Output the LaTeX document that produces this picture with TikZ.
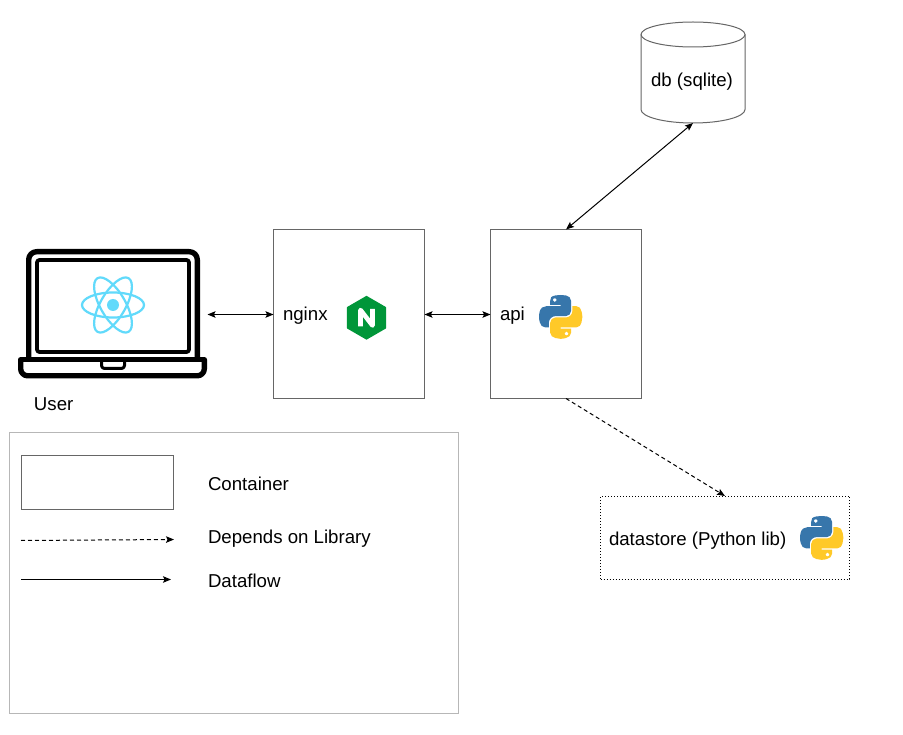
\documentclass[tikz,border=0pt]{standalone}
\usepackage{fontspec}
\setmainfont{Liberation Sans}
\usetikzlibrary{arrows.meta}
\definecolor{boxgrey}{HTML}{666666}
\definecolor{legendgrey}{HTML}{B7B7B7}
\definecolor{reactblue}{HTML}{61DAFB}
\definecolor{nginxgreen}{HTML}{009639}
\definecolor{pyblue}{HTML}{3776AB}
\definecolor{pyyellow}{HTML}{FFC928}
\tikzset{
  boxnode/.style={draw=boxgrey,line width=1pt,minimum width=151pt,minimum height=169pt,inner sep=0pt,outer sep=0pt},
  textlabel/.style={font=\fontsize{18.65}{20}\selectfont,inner sep=0pt,outer sep=0pt,anchor=base west,text=black},
  headtip/.tip={Stealth[length=8pt,width=6.5pt,inset=1.5pt]},
  flow/.style={line width=1pt,headtip-headtip},
  flowone/.style={line width=1pt,-headtip},
  depend/.style={line width=1pt,dash pattern=on 4pt off 3pt,-headtip},
  laptopline/.style={draw=black,fill=none,line join=round},
}
\newcommand{\pythonlogo}[2]{%
  \begin{scope}[shift={(#1,#2)},x=.39pt,y=-.39pt]
    \fill[pyblue,even odd rule] (54.919,0.001) .. controls (50.335,0.022) and (45.958,0.413) .. (42.106,1.095) .. controls (30.760,3.099) and (28.700,7.295) .. (28.700,15.032) -- (28.700,25.250) -- (55.513,25.250) -- (55.513,28.656) -- (28.700,28.656) -- (18.638,28.656) .. controls (10.845,28.656) and (4.022,33.340) .. (1.888,42.250) .. controls (-0.574,52.463) and (-0.683,58.836) .. (1.888,69.500) .. controls (3.793,77.438) and (8.344,83.094) .. (16.138,83.094) -- (25.357,83.094) -- (25.357,70.844) .. controls (25.357,61.994) and (33.015,54.188) .. (42.106,54.188) -- (68.888,54.188) .. controls (76.343,54.188) and (82.294,48.049) .. (82.294,40.562) -- (82.294,15.032) .. controls (82.294,7.766) and (76.164,2.308) .. (68.888,1.095) .. controls (64.282,0.328) and (59.503,-0.020) .. (54.919,0.001) -- cycle
    (40.419,8.219) .. controls (43.189,8.219) and (45.450,10.518) .. (45.450,13.344) .. controls (45.450,16.160) and (43.189,18.438) .. (40.419,18.438) .. controls (37.639,18.438) and (35.388,16.160) .. (35.388,13.344) .. controls (35.388,10.518) and (37.639,8.219) .. (40.419,8.219) -- cycle;
    \fill[pyyellow,even odd rule] (85.638,28.656) -- (85.638,40.562) .. controls (85.638,49.793) and (77.812,57.562) .. (68.888,57.562) -- (42.106,57.562) .. controls (34.770,57.562) and (28.700,63.841) .. (28.700,71.188) -- (28.700,96.719) .. controls (28.700,103.985) and (35.018,108.259) .. (42.106,110.344) .. controls (50.594,112.840) and (58.733,113.291) .. (68.888,110.344) .. controls (75.638,108.389) and (82.294,104.456) .. (82.294,96.719) -- (82.294,86.500) -- (55.513,86.500) -- (55.513,83.094) -- (82.294,83.094) -- (95.700,83.094) .. controls (103.493,83.094) and (106.397,77.658) .. (109.107,69.500) .. controls (111.906,61.102) and (111.787,53.025) .. (109.107,42.250) .. controls (107.181,34.492) and (103.502,28.656) .. (95.700,28.656) -- (85.638,28.656) -- cycle
    (70.575,93.312) .. controls (73.355,93.312) and (75.607,95.590) .. (75.607,98.406) .. controls (75.607,101.232) and (73.355,103.531) .. (70.575,103.531) .. controls (67.805,103.531) and (65.544,101.232) .. (65.544,98.406) .. controls (65.544,95.590) and (67.805,93.312) .. (70.575,93.312) -- cycle;
  \end{scope}}
\begin{document}
\begin{tikzpicture}[x=1pt,y=-1pt]
\useasboundingbox (0,0) rectangle (903,735);
\fill[white] (0,0) rectangle (903,735);

% legend frame
\draw[legendgrey,line width=1pt] (9.5,432.5) rectangle (458.5,713.5);

% laptop (User)
\node[minimum width=189pt,minimum height=130pt,inner sep=0pt,outer sep=0pt] (user) at (113,314) {};
\draw[laptopline,line width=5.4pt,rounded corners=8pt] (28.7,360) -- (28.7,251.7) -- (197.3,251.7) -- (197.3,360);
\draw[laptopline,line width=3.8pt,rounded corners=2.5pt] (37,260) rectangle (189,352);
% base
\draw[laptopline,line width=5.4pt,rounded corners=7pt] (20.7,359.7) -- (20.7,375.8) -- (204.3,375.8) -- (204.3,359.7);
\draw[laptopline,line width=5.4pt,line cap=round] (20.7,359.7) -- (204.3,359.7);
\draw[laptopline,line width=3pt,rounded corners=3pt] (101.5,360) -- (101.5,368.5) -- (124.5,368.5) -- (124.5,360);

% react logo
\coordinate (reactc) at (113,305);
\foreach \ang in {0,60,120}
  \draw[reactblue,line width=2.2pt,rotate around={\ang:(reactc)}] (reactc) ellipse [x radius=31pt,y radius=12.5pt];
\fill[reactblue] (reactc) circle [radius=6pt];

\node[textlabel] (userlabel) at (34,410) {User};

% nginx
\node[boxnode] (nginx) at (349,314) {};
\node[textlabel] (nginxlabel) at (283,321) {nginx};
\fill[nginxgreen,draw=nginxgreen,line width=1.2pt,line join=round] (366.5,296.5) -- (385.5,307.5) -- (385.5,328) -- (366.5,339) -- (347.5,328) -- (347.5,307.5) -- cycle;
\draw[white,line width=4.6pt,line join=round] (360.5,326.5) -- (360.5,310) -- (372.5,325.5) -- (372.5,309);

% api
\node[boxnode] (api) at (566,314) {};
\node[textlabel] (apilabel) at (500,321) {api};
\pythonlogo{539}{295}

% db cylinder
\node[minimum width=104pt,minimum height=101pt,inner sep=0pt,outer sep=0pt] (db) at (693,72.5) {};
\draw[boxgrey,line width=1pt] (641,34.5) arc [start angle=180,end angle=-180,x radius=52pt,y radius=12.5pt];
\draw[boxgrey,line width=1pt] (641,34.5) -- (641,109.5) arc [start angle=180,end angle=360,x radius=52pt,y radius=13.5pt] -- (745,34.5);
\node[textlabel,anchor=base] (dblabel) at (692,86.5) {db (sqlite)};

% datastore
\node[draw=black,line width=1pt,dash pattern=on 1pt off 2pt,minimum width=249pt,minimum height=83pt,inner sep=0pt,outer sep=0pt] (datastore) at (725,537.5) {};
\node[textlabel] (dslabel) at (609,545) {datastore (Python lib)};
\pythonlogo{800}{516}

% connectors
\draw[flow] ([yshift=-.5pt]user.east) -- ([yshift=-.5pt]nginx.west);
\draw[flow] ([yshift=-.5pt]nginx.east) -- ([yshift=-.5pt]api.west);
\draw[flow] (api.north) -- (db.south);
\draw[depend] (api.south) -- (datastore.north);

% legend
\node[draw=boxgrey,line width=1pt,minimum width=152pt,minimum height=54pt,inner sep=0pt,outer sep=0pt] (legbox) at (97.5,482.5) {};
\node[textlabel] (legcontainer) at (208,490) {Container};
\coordinate (depa) at (21,540.5);
\coordinate (depb) at (174,539.5);
\draw[depend] (depa) -- (depb);
\node[textlabel] (legdepends) at (208,543) {Depends on Library};
\coordinate (flowa) at (21,579.5);
\coordinate (flowb) at (171,579.5);
\draw[flowone] (flowa) -- (flowb);
\node[textlabel] (legflow) at (208,587) {Dataflow};
\end{tikzpicture}
\end{document}
